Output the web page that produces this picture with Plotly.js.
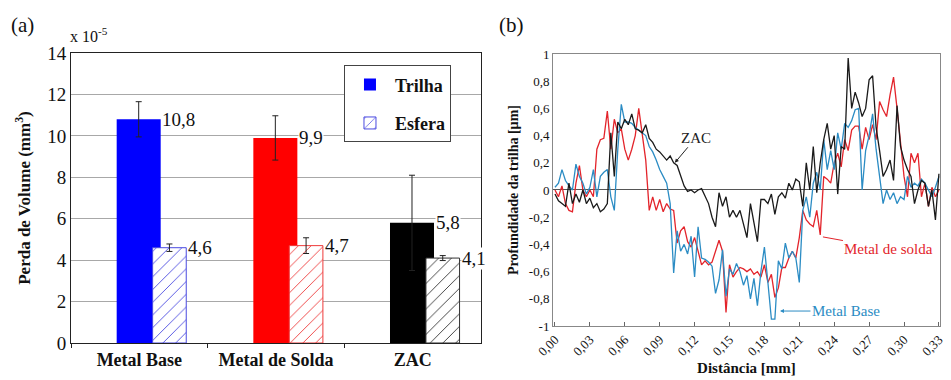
<!DOCTYPE html>
<html>
<head>
<meta charset="utf-8">
<script src="https://cdn.plot.ly/plotly-3.0.1.min.js"></script>
<style>html,body{margin:0;padding:0;background:#fff;}#chart{width:951px;height:380px;}</style>
</head>
<body>
<div id="chart"></div>
<script>
// ---- Panel (a) data ----
const categories = ['Metal Base', 'Metal de Solda', 'ZAC'];
const trilha = [10.8, 9.9, 5.8];
const trilhaErr = [0.85, 1.07, 2.3];
const esfera = [4.6, 4.7, 4.1];
const esferaErr = [0.18, 0.38, 0.12];
const trilhaLabels = ['10,8', '9,9', '5,8'];
const esferaLabels = ['4,6', '4,7', '4,1'];
const barColors = ['#0000ff', '#ff0000', '#000000'];
const hatchColors = ['#4a4ae0', '#ee3a3a', '#333333'];

// ---- Panel (b) data ----
const dist = [0,0.003,0.006,0.009,0.012,0.015,0.018,0.021,0.024,0.027,
  0.03,0.033,0.036,0.039,0.042,0.045,0.048,0.051,0.054,0.057,
  0.06,0.063,0.066,0.069,0.072,0.075,0.078,0.081,0.084,0.087,
  0.09,0.093,0.096,0.099,0.102,0.105,0.108,0.111,0.114,0.117,
  0.12,0.123,0.126,0.129,0.132,0.135,0.138,0.141,0.144,0.147,
  0.15,0.153,0.156,0.159,0.162,0.165,0.168,0.171,0.174,0.177,
  0.18,0.183,0.186,0.189,0.192,0.195,0.198,0.201,0.204,0.207,
  0.21,0.213,0.216,0.219,0.222,0.225,0.228,0.231,0.234,0.237,
  0.24,0.243,0.246,0.249,0.252,0.255,0.258,0.261,0.264,0.267,
  0.27,0.273,0.276,0.279,0.282,0.285,0.288,0.291,0.294,0.297,
  0.3,0.303,0.306,0.309,0.312,0.315,0.318,0.321,0.324,0.327,0.33];
const metalSolda = [0.0,-0.05,0.03,-0.1,-0.15,-0.16,0.05,0.18,0.0,-0.05,
  0.0,-0.05,0.3,0.37,0.38,0.58,0.3,0.52,0.42,0.45,
  0.3,0.22,0.3,0.4,0.6,0.4,0.22,-0.15,-0.05,-0.15,
  -0.07,-0.16,-0.1,-0.14,-0.15,-0.39,-0.3,-0.27,-0.38,-0.42,
  -0.35,-0.45,-0.55,-0.52,-0.55,-0.53,-0.45,-0.37,-0.45,-0.9,
  -0.55,-0.64,-0.6,-0.57,-0.58,-0.6,-0.58,-0.62,-0.6,-0.64,
  -0.55,-0.68,-0.62,-0.79,-0.72,-0.57,-0.57,-0.5,-0.45,-0.5,
  -0.35,-0.15,-0.22,-0.25,-0.27,-0.15,-0.33,0.1,0.08,0.05,
  0.2,0.27,0.17,0.37,0.29,0.44,0.47,0.47,0.3,0.46,
  0.37,0.48,0.37,0.65,0.59,0.54,0.7,0.83,0.6,0.35,
  0.1,-0.05,0.27,0.2,0.27,-0.05,0.05,-0.12,0.02,-0.05,0.0];
const zac = [-0.03,-0.08,-0.1,-0.12,0.05,-0.1,-0.03,-0.09,0.0,-0.1,
  -0.06,-0.13,-0.1,-0.16,-0.14,-0.1,0.42,0.1,0.5,0.45,
  0.52,0.48,0.56,0.45,0.44,0.42,0.48,0.38,0.35,0.3,
  0.28,0.25,0.22,0.25,0.2,0.18,0.1,0.03,-0.01,0.0,
  -0.02,0.0,0.01,-0.04,-0.1,-0.2,-0.27,-0.02,-0.12,-0.05,
  -0.2,-0.15,-0.2,-0.15,-0.25,-0.35,-0.1,-0.25,-0.38,-0.07,
  -0.07,-0.1,-0.03,-0.18,-0.05,-0.02,-0.06,0.05,0.0,0.08,
  0.06,-0.12,0.2,0.0,0.32,-0.02,0.2,0.37,0.49,0.3,
  0.4,-0.03,0.32,0.3,0.97,0.6,0.72,0.64,0.54,0.6,
  0.81,0.84,0.46,0.29,0.1,0.15,0.22,0.07,0.62,0.32,
  0.22,0.15,0.1,-0.1,0.0,0.07,0.05,-0.12,0.0,-0.22,0.12];
const metalBase = [0.02,0.05,0.15,0.07,0.03,0.0,0.19,0.1,0.05,-0.03,
  0.02,0.15,-0.05,0.1,0.13,0.15,-0.05,-0.15,0.3,0.63,
  0.5,0.5,0.49,0.46,0.44,0.42,0.4,0.32,0.28,0.22,
  0.15,0.1,0.05,-0.1,-0.61,-0.3,-0.45,-0.4,-0.47,-0.34,
  -0.64,-0.27,-0.5,-0.51,-0.53,-0.56,-0.76,-0.66,-0.44,-0.78,
  -0.58,-0.62,-0.54,-0.6,-0.7,-0.63,-0.8,-0.65,-0.85,-0.6,
  -0.42,-0.68,-0.95,-0.95,-0.52,-0.58,-0.39,-0.5,-0.45,-0.5,
  -0.68,-0.15,-0.05,-0.2,0.05,0.13,0.0,0.37,0.15,0.29,
  0.15,0.42,0.3,0.49,0.46,0.51,0.59,0.6,0.0,0.29,
  0.4,0.56,0.3,0.1,-0.1,0.0,-0.07,-0.02,-0.1,-0.05,
  -0.07,0.1,0.02,0.05,0.03,0.08,0.05,0.0,-0.05,0.02,0.1];
const xTickVals = [0,0.03,0.06,0.09,0.12,0.15,0.18,0.21,0.24,0.27,0.30,0.33];
const xTickText = ['0,00','0,03','0,06','0,09','0,12','0,15','0,18','0,21','0,24','0,27','0,30','0,33'];
const yTickVals = [-1,-0.8,-0.6,-0.4,-0.2,0,0.2,0.4,0.6,0.8,1];
const yTickText = ['-1','-0,8','-0,6','-0,4','-0,2','0','0,2','0,4','0,6','0,8','1'];

const SERIF = 'Liberation Serif';

const traces = [
  {
    type: 'bar', name: 'Trilha', x: categories, y: trilha,
    xaxis: 'x', yaxis: 'y', legendgroup: 'g1',
    offset: -0.166, width: 0.322,
    marker: {color: barColors, line: {width: 0}},
    error_y: {type: 'data', array: trilhaErr, visible: true, color: '#222', thickness: 1, width: 3},
    hoverinfo: 'skip'
  },
  {
    type: 'bar', name: 'Esfera', x: categories, y: esfera,
    xaxis: 'x', yaxis: 'y', legendgroup: 'g2',
    offset: 0.097, width: 0.246,
    marker: {color: '#ffffff', line: {color: hatchColors, width: 1},
      pattern: {shape: '/', fgcolor: hatchColors, bgcolor: '#ffffff', size: 9, solidity: 0.1}},
    error_y: {type: 'data', array: esferaErr, visible: true, color: '#222', thickness: 1, width: 3},
    hoverinfo: 'skip'
  },
  {
    type: 'scatter', mode: 'lines', name: 'Metal de solda', x: dist, y: metalSolda,
    xaxis: 'x2', yaxis: 'y2', showlegend: false,
    line: {color: '#e3242b', width: 1.3}
  },
  {
    type: 'scatter', mode: 'lines', name: 'Metal Base', x: dist, y: metalBase,
    xaxis: 'x2', yaxis: 'y2', showlegend: false,
    line: {color: '#2b8cc4', width: 1.3}
  },
  {
    type: 'scatter', mode: 'lines', name: 'ZAC', x: dist, y: zac,
    xaxis: 'x2', yaxis: 'y2', showlegend: false,
    line: {color: '#1a1a1a', width: 1.3}
  }
];

const annotations = [];
categories.forEach((c, i) => {
  annotations.push({x: c, y: trilha[i], xref: 'x', yref: 'y', text: trilhaLabels[i],
    showarrow: false, xanchor: 'left', yanchor: 'middle', xshift: 22,
    bgcolor: '#ffffff', borderpad: 0, font: {family: SERIF, size: 19, color: '#111'}});
  annotations.push({x: c, y: esfera[i], xref: 'x', yref: 'y', text: esferaLabels[i],
    showarrow: false, xanchor: 'left', yanchor: 'middle', xshift: 48,
    bgcolor: '#ffffff', borderpad: 0, font: {family: SERIF, size: 19, color: '#111'}});
});
annotations.push(
  {xref: 'paper', yref: 'paper', x: 0.009, y: 0.935, text: '(a)', showarrow: false,
   xanchor: 'left', yanchor: 'middle', font: {family: SERIF, size: 21, color: '#111'}},
  {xref: 'paper', yref: 'paper', x: 0.523, y: 0.935, text: '(b)', showarrow: false,
   xanchor: 'left', yanchor: 'middle', font: {family: SERIF, size: 21, color: '#111'}},
  {xref: 'paper', yref: 'paper', x: 0.072, y: 0.908, text: 'x 10<sup>-5</sup>', showarrow: false,
   xanchor: 'left', yanchor: 'middle', font: {family: SERIF, size: 16, color: '#111'}},
  {xref: 'x2', yref: 'y2', x: 0.103, y: 0.2, text: 'ZAC', showarrow: true,
   ax: 21, ay: -25, arrowhead: 2, arrowsize: 0.8, arrowwidth: 1, arrowcolor: '#222',
   font: {family: SERIF, size: 15, color: '#222'}},
  {xref: 'x2', yref: 'y2', x: 0.2303, y: -0.345, text: 'Metal de solda', showarrow: true,
   ax: 66, ay: 12, arrowhead: 0, arrowwidth: 1, arrowcolor: '#e3242b',
   font: {family: SERIF, size: 15, color: '#e3242b'}},
  {xref: 'x2', yref: 'y2', x: 0.1934, y: -0.89, text: 'Metal Base', showarrow: true,
   ax: 66, ay: 0, arrowhead: 2, arrowsize: 0.8, arrowwidth: 1, arrowcolor: '#2b8cc4',
   font: {family: SERIF, size: 15, color: '#2b8cc4'}}
);

const layout = {
  width: 951, height: 380,
  margin: {l: 0, r: 0, t: 0, b: 0},
  paper_bgcolor: '#ffffff', plot_bgcolor: '#ffffff',
  separators: ', ',
  font: {family: SERIF, color: '#111'},
  barmode: 'overlay',
  showlegend: true,
  legend: {x: 0.3617, y: 0.828, xanchor: 'left', yanchor: 'top',
    bgcolor: '#ffffff', bordercolor: '#444', borderwidth: 1,
    font: {family: SERIF, size: 18, weight: 'bold', color: '#111'},
    itemwidth: 40, tracegroupgap: 12},
  xaxis: {domain: [0.0747, 0.5058], anchor: 'y', type: 'category', range: [-0.5, 2.5],
    showline: true, linecolor: '#222', linewidth: 1, mirror: true,
    ticks: 'outside', tickson: 'boundaries', ticklen: 4, tickcolor: '#222',
    showgrid: false, zeroline: false,
    tickfont: {family: SERIF, size: 18, weight: 'bold', color: '#111'}},
  yaxis: {domain: [0.0974, 0.8605], anchor: 'x', range: [0, 14], dtick: 2,
    showline: true, linecolor: '#222', linewidth: 1, mirror: true,
    showgrid: true, gridcolor: '#a8a8a8', gridwidth: 1, zeroline: false, ticks: '',
    tickfont: {family: SERIF, size: 19, color: '#111'},
    title: {text: 'Perda de Volume (mm<sup>3</sup>)', standoff: 12,
      font: {family: SERIF, size: 17, weight: 'bold', color: '#111'}}},
  xaxis2: {domain: [0.5815, 0.9884], anchor: 'y2', range: [-0.0017, 0.3309],
    tickvals: xTickVals, ticktext: xTickText, tickangle: -45,
    ticks: 'inside', ticklen: 4, tickcolor: '#666',
    showline: true, linecolor: '#888', linewidth: 1, mirror: true,
    showgrid: false, zeroline: false,
    tickfont: {family: SERIF, size: 13, color: '#111'},
    title: {text: 'Distância [mm]', standoff: 4,
      font: {family: SERIF, size: 15, weight: 'bold', color: '#111'}}},
  yaxis2: {domain: [0.1421, 0.8579], anchor: 'x2', range: [-1, 1],
    tickvals: yTickVals, ticktext: yTickText,
    ticks: '', showline: true, linecolor: '#888', linewidth: 1, mirror: true,
    showgrid: false, zeroline: true, zerolinecolor: '#555', zerolinewidth: 1,
    tickfont: {family: SERIF, size: 13, color: '#111'},
    title: {text: 'Profundidade da trilha [µm]', standoff: 6,
      font: {family: SERIF, size: 14, weight: 'bold', color: '#111'}}},
  annotations: annotations
};

Plotly.newPlot('chart', traces, layout, {staticPlot: true, displayModeBar: false});
</script>
</body>
</html>
